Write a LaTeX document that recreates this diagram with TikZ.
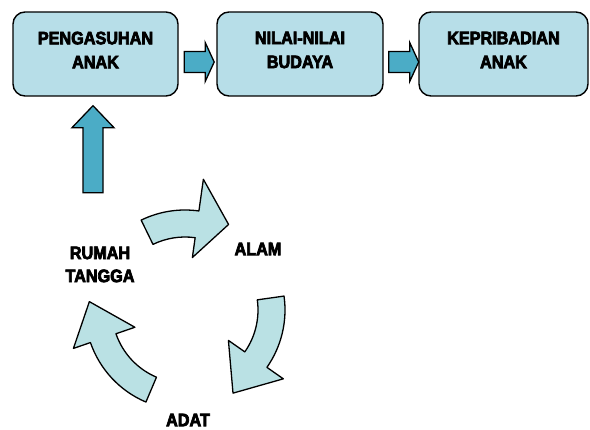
\documentclass[tikz,border=0pt]{standalone}
\usepackage{fontspec}
\setmainfont[BoldFeatures={FakeBold=4, FakeStretch=0.9}]{Liberation Sans}
\usepackage{tikz}
\usetikzlibrary{calc}
\definecolor{boxblue}{RGB}{183,222,232}
\definecolor{arrowteal}{RGB}{75,172,198}
\definecolor{cyclefill}{RGB}{186,225,228}

\tikzset{
	mainbox/.style={draw=black, line width=1.4pt, fill=boxblue, rounded corners=12pt, minimum height=84pt, inner sep=0pt},
	boxtext/.style={align=center, inner sep=0pt, font=\fontsize{18}{24}\selectfont\bfseries},
	cycletext/.style={align=center, inner sep=0pt, font=\fontsize{18}{23}\selectfont\bfseries},
	blockarrow/.style={draw=black, line width=1.3pt, fill=arrowteal},
	cyclearrow/.style={draw=black, line width=1.3pt, fill=cyclefill, line join=round}
}

% curved arrow of the cycle: tail angle, head angle, tip angle, head outer radius
\newcommand{\cycarrow}[4]{%
	\filldraw[cyclearrow, shift={(cyc)}] (#1:100) arc[start angle=#1, end angle=#2, radius=100]
		-- (#2:#4) -- (#3:96) -- (#2:53) -- (#2:73)
		arc[start angle=#2, end angle=#1, radius=73] -- cycle;}

\begin{document}
\begin{tikzpicture}[x=1pt, y=1pt]

	\useasboundingbox (0,0) rectangle (590,-430);

	% main boxes
	\node[mainbox, minimum width=165pt] (pengasuhan) at (95.5,-54) {};
	\node[mainbox, minimum width=166pt] (nilai) at (300,-54) {};
	\node[mainbox, minimum width=169pt] (kepribadian) at (503.5,-54) {};

	\node[boxtext] at ([yshift=4pt]pengasuhan.center) {PENGASUHAN\\ANAK};
	\node[boxtext] at ([yshift=4pt]nilai.center) {NILAI-NILAI\\BUDAYA};
	\node[boxtext] at ([yshift=4pt]kepribadian.center) {KEPRIBADIAN\\ANAK};

	% block arrows between the boxes
	\coordinate (a1) at ($(pengasuhan.east)+(5.5,-8)$);
	\coordinate (a2) at ($(nilai.east)+(5,-8)$);
	\foreach \a in {a1,a2}
		\filldraw[blockarrow, shift={(\a)}] (0,10.5) -- (21,10.5) -- (21,19.5) -- (30,0) -- (21,-19.5) -- (21,-10.5) -- (0,-10.5) -- cycle;

	% arrow up to the first box
	\coordinate (up) at ($(pengasuhan.south)+(-2.5,-96)$);
	\filldraw[blockarrow, shift={(up)}] (-10,0) -- (-10,65) -- (-21,65) -- (0,87) -- (21,65) -- (10,65) -- (10,0) -- cycle;

	% cycle
	\coordinate (cyc) at (185,-310);
	\cycarrow{116}{82}{63}{132}
	\cycarrow{8}{-35}{-60}{120}
	\cycarrow{247}{199}{175}{118}

	\node[cycletext] (rumah) at (100,-264.5) {RUMAH\\TANGGA};
	\node[cycletext] (alam) at (258,-249) {ALAM};
	\node[cycletext] (adat) at (188,-420) {ADAT};

\end{tikzpicture}
\end{document}
